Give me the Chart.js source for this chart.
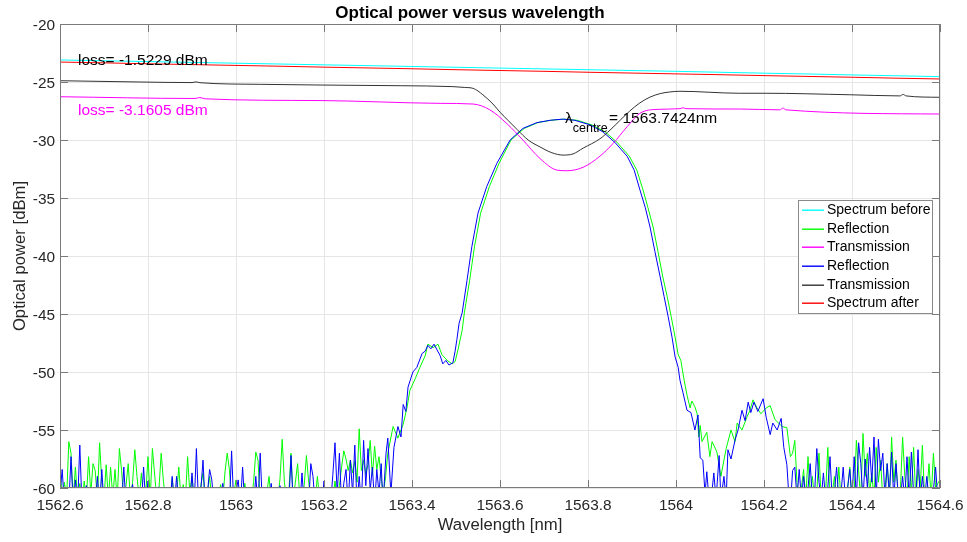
<!DOCTYPE html>
<html>
<head>
<meta charset="utf-8">
<script src="https://cdn.jsdelivr.net/npm/chart.js@4.4.0/dist/chart.umd.min.js"></script>
<style>
  html, body { margin: 0; padding: 0; background: #fff; }
  canvas { display: block; }
</style>
</head>
<body>
<canvas id="chart" width="967" height="542"></canvas>
<script>
// axis ranges
const wlMin = 1562.6, wlMax = 1564.6, wlStep = 0.2;
const dbMin = -60, dbMax = -20, dbStep = 5;

// source spectra, read every 0.1 nm
const flatWl = [1562.6, 1562.7, 1562.8, 1562.9, 1563.0, 1563.1, 1563.2, 1563.3, 1563.4, 1563.5, 1563.6,
  1563.7, 1563.8, 1563.9, 1564.0, 1564.1, 1564.2, 1564.3, 1564.4, 1564.5, 1564.6];
const spectrumBefore = [-23.10, -23.17, -23.24, -23.31, -23.38, -23.45, -23.52, -23.59, -23.66, -23.73, -23.80,
  -23.87, -23.94, -24.01, -24.08, -24.16, -24.24, -24.31, -24.39, -24.46, -24.54];
const spectrumAfter = [-23.28, -23.35, -23.43, -23.50, -23.57, -23.64, -23.72, -23.79, -23.86, -23.94, -24.01,
  -24.08, -24.16, -24.23, -24.30, -24.37, -24.45, -24.52, -24.59, -24.67, -24.74];

// transmission (black)
const transBlackWl = [1562.600, 1562.782, 1562.900, 1562.909, 1562.918, 1563.055, 1563.191, 1563.373, 1563.493, 1563.520,
  1563.539, 1563.561, 1563.584, 1563.600, 1563.618, 1563.639, 1563.664, 1563.691, 1563.718, 1563.743,
  1563.766, 1563.789, 1563.827, 1563.850, 1563.873, 1563.895, 1563.918, 1563.941, 1563.964, 1563.986,
  1564.009, 1564.145, 1564.200, 1564.395, 1564.509, 1564.516, 1564.523, 1564.600];
const transBlackDb = [-24.89, -25.0, -25.05, -24.99, -25.06, -25.2, -25.26, -25.32, -25.40, -25.47,
  -25.55, -26.1, -26.9, -27.6, -28.3, -29.1, -30.0, -30.6, -31.1, -31.3,
  -31.2, -30.7, -29.9, -29.15, -28.3, -27.5, -26.8, -26.3, -26.0, -25.86,
  -25.8, -25.97, -25.97, -26.1, -26.2, -26.07, -26.2, -26.32];

// transmission (magenta)
const transMagWl = [1562.600, 1562.907, 1562.918, 1562.930, 1563.191, 1563.464, 1563.539, 1563.577, 1563.616,
  1563.652, 1563.691, 1563.730, 1563.752, 1563.789, 1563.827, 1563.857, 1563.889, 1563.918, 1563.957,
  1564.009, 1564.016, 1564.023, 1564.145, 1564.236, 1564.243, 1564.250, 1564.600];
const transMagDb = [-26.27, -26.42, -26.34, -26.45, -26.6, -26.84, -26.9, -27.4, -28.6,
  -30.0, -31.6, -32.6, -32.65, -32.35, -31.4, -30.3, -28.85, -27.7, -27.36,
  -27.3, -27.22, -27.3, -27.33, -27.4, -27.25, -27.4, -27.76];

// reflection noise floor, sampled every 0.005 nm
const noiseStep = 0.005;
const noiseLeftStart = 1562.6;
const noiseRightStart = 1564.26;

const blueNoiseLeft = [
  -60.5, -58.4, -61.5, -60.2, -61.5, -57.3, -61.5, -59.3, -61.5, -56.3,
  -61.5, -60.4, -59.8, -61.5, -61.5, -60.6, -61.5, -59.0, -61.5, -58.4,
  -61.5, -61.5, -60.3, -61.5, -60.2, -61.5, -61.5, -60.8, -61.5, -58.2,
  -61.5, -61.5, -60.5, -59.7, -61.5, -61.5, -60.9, -61.5, -58.2, -61.5,
  -59.4, -61.5, -61.5, -60.6, -61.5, -59.9, -61.5, -61.5, -61.5, -60.7,
  -61.5, -59.0, -61.5, -59.0, -61.5, -61.5, -60.4, -60.1, -61.5, -61.5,
  -58.7, -61.5, -56.6, -61.5, -60.2, -57.6, -61.5, -60.5, -58.4, -59.3,
  -61.5, -61.5, -61.5, -60.6, -59.6, -61.5, -61.5, -61.5, -56.8, -61.5,
  -60.3, -59.3, -61.5, -58.2, -61.5, -61.5, -60.7, -61.5, -61.5, -59.0,
  -61.5, -57.0, -61.5, -61.5, -60.5, -61.5, -59.6, -61.5, -61.5, -61.5,
  -59.8, -61.5, -61.5, -60.6, -61.5, -57.2, -61.5, -60.3, -61.5, -61.5,
  -58.7, -61.5, -60.4, -61.5, -57.9, -59.0, -61.5, -61.5, -60.8, -61.5,
  -59.4, -61.5, -60.3, -61.5, -58.9, -56.1, -60.5, -57.0, -61.5, -59.6,
  -58.4, -61.5, -57.6, -60.5, -56.3, -61.5, -59.0, -61.5, -55.9, -59.8,
  -56.6, -60.2, -58.2, -61.5, -58.4, -60.5, -57.9
];
const greenNoiseLeft = [
  -58.2, -61, -59.5, -61, -56.0, -57.0, -61, -58.2, -61, -59.6,
  -61.5, -59.4, -61, -57.3, -60.5, -57.9, -58.5, -61, -56.1, -59.5,
  -61, -58.0, -61, -58.2, -60.8, -58.4, -61, -56.6, -58.5, -61,
  -59.8, -57.9, -61, -59.5, -56.7, -59.0, -61, -58.7, -61, -60.5,
  -57.3, -61, -56.6, -58.8, -61, -60.0, -57.0, -59.4, -61, -60.3,
  -61, -59.2, -61, -60.5, -58.2, -61, -59.7, -61, -57.3, -60.4,
  -59.0, -61, -60.2, -61, -59.8, -58.7, -61, -60.4, -59.0, -61,
  -61.5, -60.2, -61, -59.7, -61, -58.6, -57.0, -58.4, -61, -60.5,
  -59.3, -61, -60.6, -61, -59.6, -61, -60.1, -61, -59.5, -56.9,
  -57.6, -61, -60.2, -61, -60.5, -59.0, -61, -61, -60.3, -61,
  -59.2, -55.8, -59.5, -61, -60.5, -57.0, -61, -59.5, -57.9, -60.8,
  -61, -59.8, -57.2, -59.4, -61, -60.4, -61, -59.0, -61, -61.5,
  -60.8, -61.5, -61, -60.5, -61, -59.4, -61, -59.8, -58.2, -56.8,
  -57.5, -58.5, -57.6, -58.7, -57.7, -59.5, -54.9, -58.5, -57.6, -58.8,
  -58.0, -55.9, -58.9, -56.4, -58.4, -57.3, -59.2, -60.5, -59.0, -57.0
];
const blueNoiseRight = [
  -61.5, -58.5, -58.2, -61, -58.4, -61, -59.0, -61, -60, -57.9,
  -61, -60.5, -56.6, -59.5, -61, -58.7, -61, -60, -57.3, -61,
  -60.4, -58.2, -61, -60.5, -58.2, -61, -60, -58.4, -61, -57.3,
  -61, -56.1, -57.9, -61, -57.5, -60, -56.5, -59.5, -55.6, -61,
  -55.8, -58.5, -57.0, -61, -57.9, -60.5, -56.9, -61, -57.9, -60.6,
  -61, -59.0, -61, -57.3, -61, -56.9, -60.5, -61, -56.7, -61,
  -59.0, -61, -59.0, -61, -61, -60.2, -58.2, -61, -59.6
];
const greenNoiseRight = [
  -57.3, -57.0, -55.9, -59.6, -61, -60, -58.4, -61, -57.3, -60.5,
  -59.0, -61, -60.4, -57.0, -61, -60, -60.5, -56.5, -61, -60.5,
  -59.0, -61, -58.2, -61, -60.3, -61, -60, -58.2, -61, -60.5,
  -55.9, -58.5, -61, -55.3, -59, -57.0, -60.5, -58.7, -61, -56.5,
  -59.5, -57.6, -61, -60, -57.9, -61, -55.6, -59.5, -57.6, -61,
  -60.2, -55.6, -59, -61, -57.3, -60.5, -56.5, -61, -58.4, -60,
  -56.3, -61, -60.5, -57.9, -61, -57.0, -60, -59.6, -59.3
];

// reflection band (blue)
const blueBandWl = [1563.334, 1563.341, 1563.345, 1563.352, 1563.359, 1563.368, 1563.375, 1563.380, 1563.386, 1563.391,
  1563.402, 1563.411, 1563.423, 1563.430, 1563.436, 1563.443, 1563.450, 1563.457, 1563.464, 1563.470,
  1563.477, 1563.484, 1563.493, 1563.498, 1563.502, 1563.507, 1563.514, 1563.525, 1563.536, 1563.550,
  1563.570, 1563.593, 1563.623, 1563.652, 1563.684, 1563.714, 1563.743, 1563.770, 1563.805, 1563.834,
  1563.861, 1563.889, 1563.905, 1563.918, 1563.930, 1563.941, 1563.952, 1563.964, 1563.973, 1563.982,
  1563.991, 1563.998, 1564.005, 1564.009, 1564.016, 1564.025, 1564.034, 1564.043, 1564.050, 1564.055,
  1564.061, 1564.066, 1564.070, 1564.075, 1564.080, 1564.086, 1564.091, 1564.098, 1564.102, 1564.109,
  1564.114, 1564.118, 1564.125, 1564.134, 1564.141, 1564.150, 1564.157, 1564.164, 1564.170, 1564.177,
  1564.186, 1564.198, 1564.205, 1564.214, 1564.220, 1564.230, 1564.239, 1564.245, 1564.252, 1564.257];
const blueBandDb = [-61.5, -57.0, -55.7, -60.5, -56.5, -54.7, -55.6, -52.8, -53.4, -51.3,
  -50.0, -49.6, -48.4, -48.2, -47.7, -48.0, -47.6, -48.1, -48.6, -49.3,
  -49.0, -49.4, -49.2, -48.2, -47.2, -45.8, -44.9, -42.1, -39.2, -36.3,
  -34.0, -32.0, -30.0, -29.0, -28.5, -28.3, -28.2, -28.3, -28.7, -29.3,
  -30.2, -31.4, -32.6, -34.3, -35.8, -37.5, -39.6, -41.8, -43.5, -45.2,
  -47.0, -48.7, -49.6, -50.7, -51.8, -53.3, -53.5, -55.0, -53.7, -57.4,
  -57.6, -60.5, -58.6, -61, -61, -58.7, -61, -57.2, -61, -59.0,
  -61, -56.7, -57.5, -55.9, -55.0, -53.3, -54.2, -52.6, -53.5, -52.6,
  -53.4, -52.3, -53.9, -55.4, -54.4, -55.0, -54.0, -56.5, -58.0, -61];

// reflection band (green)
const greenBandWl = [1563.357, 1563.368, 1563.380, 1563.389, 1563.395, 1563.407, 1563.418, 1563.430, 1563.436, 1563.448,
  1563.459, 1563.468, 1563.480, 1563.491, 1563.498, 1563.505, 1563.514, 1563.519, 1563.531, 1563.542,
  1563.556, 1563.576, 1563.598, 1563.625, 1563.655, 1563.686, 1563.716, 1563.745, 1563.775, 1563.809,
  1563.839, 1563.866, 1563.894, 1563.911, 1563.925, 1563.936, 1563.948, 1563.959, 1563.970, 1563.980,
  1563.989, 1563.998, 1564.005, 1564.011, 1564.018, 1564.025, 1564.032, 1564.036, 1564.043, 1564.048,
  1564.052, 1564.055, 1564.059, 1564.070, 1564.077, 1564.082, 1564.093, 1564.102, 1564.114, 1564.125,
  1564.134, 1564.139, 1564.150, 1564.161, 1564.168, 1564.175, 1564.184, 1564.193, 1564.205, 1564.214,
  1564.225, 1564.241, 1564.252];
const greenBandDb = [-54.7, -55.7, -54.5, -53.0, -51.6, -50.6, -49.6, -48.6, -47.6, -47.9,
  -47.6, -48.5, -49.0, -49.3, -49.1, -48.0, -46.4, -44.9, -42.1, -39.2,
  -36.3, -34.0, -32.0, -30.0, -29.0, -28.5, -28.3, -28.2, -28.3, -28.7,
  -29.3, -30.2, -31.4, -32.6, -34.3, -35.8, -37.5, -39.6, -41.8, -43.5,
  -45.2, -47.0, -48.5, -49.0, -50.6, -52.0, -53.1, -52.5, -53.0, -53.6,
  -55.6, -54.6, -56.0, -55.2, -57.3, -56.0, -56.9, -59.0, -56.6, -55.0,
  -56.0, -54.4, -55.0, -53.9, -53.3, -52.4, -53.1, -53.6, -53.1, -52.9,
  -54.1, -54.7, -54.8];

const centreWl = '1563.7424';
const lossBefore = '-1.5229';
const lossAfter = '-3.1605';

const FONT = "'Liberation Sans', Arial, Helvetica, sans-serif";
const TEXT = '#262626';

function pairs(xs, ys) {
  return xs.map((x, i) => ({ x: x, y: ys[i] }));
}
function sampled(start, ys) {
  return ys.map((y, i) => ({ x: +(start + i * noiseStep).toFixed(4), y: y }));
}

const blueRefl = sampled(noiseLeftStart, blueNoiseLeft)
  .concat(pairs(blueBandWl, blueBandDb), sampled(noiseRightStart, blueNoiseRight));
const greenRefl = sampled(noiseLeftStart, greenNoiseLeft)
  .concat(pairs(greenBandWl, greenBandDb), sampled(noiseRightStart, greenNoiseRight));

function line(label, data, color, order, smooth) {
  return {
    label: label, data: data, borderColor: color, backgroundColor: color,
    borderWidth: 1, pointRadius: 0, fill: false, order: order, clip: 0,
    cubicInterpolationMode: smooth ? 'monotone' : 'default', tension: 0
  };
}

// legend order; "order" makes later ones draw on top
const datasets = [
  line('Spectrum before', pairs(flatWl, spectrumBefore), '#00ffff', 6, true),
  line('Reflection', greenRefl, '#00ff00', 5, false),
  line('Transmission', pairs(transMagWl, transMagDb), '#ff00ff', 4, true),
  line('Reflection', blueRefl, '#0000ff', 3, false),
  line('Transmission', pairs(transBlackWl, transBlackDb), '#333333', 2, true),
  line('Spectrum after', pairs(flatWl, spectrumAfter), '#ff0000', 1, true)
];

// axes box with inward ticks
const frame = {
  id: 'frame',
  afterDatasetsDraw(chart) {
    const { ctx, chartArea: a, scales: { x, y } } = chart;
    ctx.save();
    ctx.strokeStyle = '#7a7a7a';
    ctx.lineWidth = 1;
    ctx.strokeRect(a.left + 0.5, a.top + 0.5, a.right - a.left - 1, a.bottom - a.top - 1);
    ctx.beginPath();
    x.ticks.forEach(t => {
      const px = Math.round(x.getPixelForValue(t.value)) + 0.5;
      ctx.moveTo(px, a.bottom); ctx.lineTo(px, a.bottom - 8);
      ctx.moveTo(px, a.top); ctx.lineTo(px, a.top + 8);
    });
    y.ticks.forEach(t => {
      const py = Math.round(y.getPixelForValue(t.value)) + 0.5;
      ctx.moveTo(a.left, py); ctx.lineTo(a.left + 8, py);
      ctx.moveTo(a.right, py); ctx.lineTo(a.right - 8, py);
    });
    ctx.stroke();
    ctx.restore();
  }
};

// text annotations placed in data coordinates
const notes = {
  id: 'notes',
  afterDatasetsDraw(chart) {
    const { ctx, scales: { x, y } } = chart;
    ctx.save();
    ctx.textBaseline = 'alphabetic';
    ctx.textAlign = 'left';
    ctx.font = '15.5px ' + FONT;
    ctx.fillStyle = '#000000';
    ctx.fillText('loss= ' + lossBefore + ' dBm', x.getPixelForValue(1562.641), y.getPixelForValue(-23.53));
    ctx.fillStyle = '#ff00ff';
    ctx.fillText('loss= ' + lossAfter + ' dBm', x.getPixelForValue(1562.641), y.getPixelForValue(-27.84));

    ctx.fillStyle = '#000000';
    let px = x.getPixelForValue(1563.748);
    const base = y.getPixelForValue(-28.56);
    ctx.fillText('\u03bb', px, base);
    px += ctx.measureText('\u03bb').width;
    ctx.font = '12.5px ' + FONT;
    ctx.fillText('centre', px, base + 8.5);
    px += ctx.measureText('centre').width + 1.5;
    ctx.font = '15.5px ' + FONT;
    ctx.fillText('= ' + centreWl + 'nm', px, base);
    ctx.restore();
  }
};

// boxed legend inside the plot, upper right
const legendBox = {
  id: 'legendBox',
  afterDraw(chart) {
    const { ctx, chartArea: a } = chart;
    const w = 134, h = 113;
    const left = a.right - 8 - w, top = a.top + 176;
    ctx.save();
    ctx.fillStyle = '#ffffff';
    ctx.fillRect(left, top, w, h);
    ctx.strokeStyle = '#8a8a8a';
    ctx.lineWidth = 1;
    ctx.strokeRect(Math.round(left) + 0.5, Math.round(top) + 0.5, w, h);
    ctx.font = '14px ' + FONT;
    ctx.textBaseline = 'middle';
    ctx.textAlign = 'left';
    chart.data.datasets.forEach((ds, i) => {
      const cy = Math.round(top + 10 + i * 18.65);
      ctx.fillStyle = ds.borderColor;
      ctx.fillRect(left + 4, cy - 0.5, 22, 1.4);
      ctx.fillStyle = '#000000';
      ctx.fillText(ds.label, left + 29, cy + 0.5);
    });
    ctx.restore();
  }
};

new Chart(document.getElementById('chart').getContext('2d'), {
  type: 'line',
  data: { datasets: datasets },
  options: {
    responsive: false,
    animation: false,
    devicePixelRatio: 1,
    layout: { padding: { top: 0, right: 27, bottom: 0, left: 0 } },
    plugins: {
      legend: { display: false },
      tooltip: { enabled: false },
      title: {
        display: true,
        text: 'Optical power versus wavelength',
        color: '#000000',
        font: { family: FONT, size: 17, weight: 'bold' },
        padding: { top: 3, bottom: 0.6 }
      }
    },
    scales: {
      x: {
        type: 'linear',
        min: wlMin,
        max: wlMax,
        ticks: {
          stepSize: wlStep,
          autoSkip: false,
          maxRotation: 0,
          padding: 9,
          color: TEXT,
          font: { family: FONT, size: 15.4 },
          callback: v => String(Math.round(v * 10) / 10)
        },
        grid: { color: '#e6e6e6', drawTicks: false },
        border: { display: false },
        title: {
          display: true,
          text: 'Wavelength [nm]',
          color: TEXT,
          font: { family: FONT, size: 16.7 },
          padding: { top: 0, bottom: 7 }
        },
        afterFit: s => { s.height = 54; s.paddingLeft = 0; s.paddingRight = 0; }
      },
      y: {
        type: 'linear',
        min: dbMin,
        max: dbMax,
        ticks: {
          stepSize: dbStep,
          padding: 5,
          labelOffset: 2,
          color: TEXT,
          font: { family: FONT, size: 15.4 }
        },
        grid: { color: '#e6e6e6', drawTicks: false },
        border: { display: false },
        title: {
          display: true,
          text: 'Optical power [dBm]',
          color: TEXT,
          font: { family: FONT, size: 16.7 },
          padding: { top: 10, bottom: 0 }
        },
        afterFit: s => { s.width = 60; s.paddingTop = 0; s.paddingBottom = 0; }
      }
    }
  },
  plugins: [frame, notes, legendBox]
});
</script>
</body>
</html>
